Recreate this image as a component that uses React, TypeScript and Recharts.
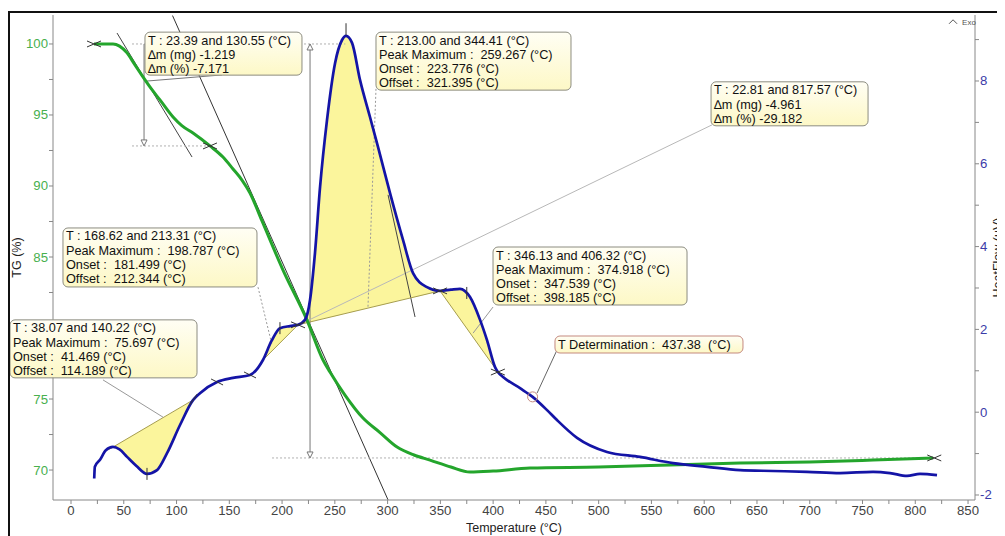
import {
  ComposedChart,
  Line,
  Area,
  XAxis,
  YAxis,
  ReferenceLine,
  ReferenceDot,
} from 'recharts'

const FONT = '"Liberation Sans", Arial, sans-serif'

// TG curve, left axis (%)
const TG_TEMP = [21.8, 30, 39.8, 46, 53.1, 60, 68.2, 76, 84.3, 96.7, 105, 115.6, 131.7, 144, 153.5, 162, 169.6, 181, 200.9, 223.6, 238.8, 245.4, 259.6, 276.7, 292.8, 309, 325, 340.2, 360, 378.1, 400, 435, 500, 567.6, 634, 700, 760, 817]
const TG_PCT = [100, 100, 100, 99.85, 99.37, 98.6, 97.68, 96.85, 96.06, 94.86, 94.25, 93.73, 92.82, 92.04, 91.2, 90.42, 89.51, 87.54, 84.08, 80.56, 77.75, 76.9, 75.28, 73.66, 72.64, 71.62, 71.06, 70.7, 70.21, 69.86, 69.93, 70.14, 70.21, 70.35, 70.49, 70.56, 70.7, 70.85]

// heat flow curve, right axis (uV)
const HF_TEMP = [22.0, 22.6, 27.5, 33, 39.8, 46, 53.1, 62, 72, 81.5, 91, 103.3, 115.6, 122.2, 138.4, 153.5, 169.6, 181.9, 190, 198, 207.5, 215.1, 221.7, 226.5, 231.2, 236, 242.6, 250.2, 256.8, 260.6, 266.3, 273.9, 283.3, 290.9, 302.3, 314.6, 324.1, 337.3, 349.7, 360, 368.6, 378.1, 387.6, 394.2, 401.8, 404.5, 409.4, 425.5, 437.4, 451.1, 460.5, 479.5, 507.9, 539.2, 570.5, 602.7, 634, 665.2, 697.4, 728.7, 760, 776.1, 792.2, 804.5, 820.6]
const HF_UV = [-1.6, -1.32, -1.15, -0.92, -0.84, -0.9, -1.08, -1.3, -1.49, -1.4, -0.99, -0.31, 0.29, 0.46, 0.73, 0.83, 0.9, 1.26, 1.72, 2.03, 2.08, 2.11, 2.23, 2.71, 3.85, 5.44, 7.06, 8.43, 8.99, 9.09, 8.92, 8.02, 7.13, 6.41, 5.29, 4.16, 3.36, 3.02, 2.93, 2.96, 2.98, 2.78, 2.23, 1.74, 1.09, 0.97, 0.85, 0.58, 0.37, 0.05, -0.19, -0.62, -0.96, -1.08, -1.23, -1.32, -1.4, -1.42, -1.44, -1.47, -1.44, -1.47, -1.54, -1.49, -1.52]

// integrated peaks: curve temperatures and the straight baseline read under them
const PEAK1_TEMP = [39.8, 46, 53.1, 62, 72, 81.5, 91, 103.3, 115.6]
const PEAK1_BASE = [-0.84, -0.75, -0.64, -0.51, -0.36, -0.22, -0.08, 0.11, 0.29]
const PEAK2_TEMP = [181.9, 190, 198, 207.5, 215.1]
const PEAK2_BASE = [1.26, 1.47, 1.67, 1.92, 2.11]
const PEAK3_TEMP = [215.1, 221.7, 226.5, 231.2, 236, 242.6, 250.2, 256.8, 260.6, 266.3, 273.9, 283.3, 290.9, 302.3, 314.6, 324.1, 337.3, 349.7]
const PEAK3_BASE = [2.11, 2.15, 2.18, 2.21, 2.24, 2.28, 2.32, 2.36, 2.39, 2.42, 2.47, 2.53, 2.57, 2.64, 2.72, 2.77, 2.85, 2.93]
const PEAK4_TEMP = [349.7, 360, 368.6, 378.1, 387.6, 394.2, 401.8, 404.5]
const PEAK4_BASE = [2.93, 2.56, 2.25, 1.91, 1.57, 1.34, 1.07, 0.97]

const X_TICKS = [0, 25, 50, 75, 100, 125, 150, 175, 200, 225, 250, 275, 300, 325, 350, 375, 400, 425, 450, 475, 500, 525, 550, 575, 600, 625, 650, 675, 700, 725, 750, 775, 800, 825, 850]
const TG_TICKS = [70, 72.5, 75, 77.5, 80, 82.5, 85, 87.5, 90, 92.5, 95, 97.5, 100]
const HF_TICKS = [-2, -1, 0, 1, 2, 3, 4, 5, 6, 7, 8, 9]

const tgData = TG_TEMP.map((t, i) => ({ t, tg: TG_PCT[i] }))
const hfData = HF_TEMP.map((t, i) => ({ t, hf: HF_UV[i] }))
const peakRows = (temps: number[], base: number[]) =>
  temps.map((t, i) => ({ t, range: [base[i], HF_UV[HF_TEMP.indexOf(t)]] }))
const PEAKS = [
  peakRows(PEAK1_TEMP, PEAK1_BASE),
  peakRows(PEAK2_TEMP, PEAK2_BASE),
  peakRows(PEAK3_TEMP, PEAK3_BASE),
  peakRows(PEAK4_TEMP, PEAK4_BASE),
]

// annotation boxes, anchored at their top-left corner (T, heat flow)
const NOTES = [
  { t: 70.1, hf: 9.18, w: 157, h: 43, lines: ['T : 23.39 and 130.55 (°C)', '∆m (mg) -1.219', '∆m (%) -7.171'] },
  { t: 289, hf: 9.18, w: 195, h: 58, lines: ['T : 213.00 and 344.41 (°C)', 'Peak Maximum :  259.267 (°C)', 'Onset :  223.776 (°C)', 'Offset :  321.395 (°C)'] },
  { t: 606.5, hf: 7.98, w: 157, h: 44, lines: ['T : 22.81 and 817.57 (°C)', '∆m (mg) -4.961', '∆m (%) -29.182'] },
  { t: -7.6, hf: 4.45, w: 194, h: 59, lines: ['T : 168.62 and 213.31 (°C)', 'Peak Maximum :  198.787 (°C)', 'Onset :  181.499 (°C)', 'Offset :  212.344 (°C)'] },
  { t: -57.8, hf: 2.23, w: 187, h: 58, lines: ['T : 38.07 and 140.22 (°C)', 'Peak Maximum :  75.697 (°C)', 'Onset :  41.469 (°C)', 'Offset :  114.189 (°C)'] },
  { t: 399.9, hf: 3.99, w: 194, h: 58, lines: ['T : 346.13 and 406.32 (°C)', 'Peak Maximum :  374.918 (°C)', 'Onset :  347.539 (°C)', 'Offset :  398.185 (°C)'] },
  { t: 458.6, hf: 1.84, w: 188, h: 17, lines: ['T Determination :  437.38  (°C)'], border: '#c4897f' },
]

// construction lines on the TG axis
const TG_LINES = [
  { a: [96.2, 102.0], b: [300.4, 67.9], stroke: '#333' },
  { a: [43.6, 100.77], b: [114.7, 92.04], stroke: '#444' },
  { a: [72.0, 97.39], b: [143.1, 97.82], stroke: '#777' },
  { a: [57.8, 100], b: [260, 100], stroke: '#b0b0b0', dash: '2 2' },
  { a: [57.8, 92.82], b: [131.7, 92.82], stroke: '#b0b0b0', dash: '2 2' },
  { a: [190.5, 70.85], b: [817, 70.85], stroke: '#b0b0b0', dash: '2 2' },
  { a: [69.2, 100], b: [69.2, 92.9], stroke: '#777' },
  { a: [226.5, 100], b: [226.5, 70.9], stroke: '#777' },
]

// leaders, tangents and peak baselines on the heat flow axis
const HF_LINES = [
  { a: [221.7, 2.18], b: [607.4, 6.94], stroke: '#b8b8b8' },
  { a: [289, 7.81], b: [281.4, 2.54], stroke: '#999', dash: '2 2' },
  { a: [300.4, 5.25], b: [326, 2.3], stroke: '#444' },
  { a: [177.2, 3.02], b: [190.5, 1.62], stroke: '#999', dash: '2 2' },
  { a: [30.3, 0.78], b: [87.2, -0.12], stroke: '#999' },
  { a: [399.9, 2.54], b: [381, 1.91], stroke: '#999' },
  { a: [460.5, 1.5], b: [441.6, 0.46], stroke: '#666' },
  { a: [36, -0.9], b: [118, 0.33], stroke: '#a69d4f' },
  { a: [181.9, 1.26], b: [215.1, 2.11], stroke: '#a69d4f' },
  { a: [215.1, 2.11], b: [349.7, 2.93], stroke: '#a69d4f' },
  { a: [349.7, 2.93], b: [404.5, 0.97], stroke: '#a69d4f' },
]

const TG_MARKS = [
  { t: 21.8, v: 100, kind: 'x' },
  { t: 131.7, v: 92.82, kind: 'x' },
  { t: 818, v: 70.85, kind: 'x' },
  { t: 69.2, v: 92.82, kind: 'down' },
  { t: 226.5, v: 100, kind: 'up' },
  { t: 226.5, v: 70.85, kind: 'down' },
]

const HF_MARKS = [
  { t: 72, v: -1.49, kind: 'v' },
  { t: 115.6, v: 0.29, kind: 'b' },
  { t: 138.4, v: 0.73, kind: 's' },
  { t: 169.6, v: 0.9, kind: 's' },
  { t: 198, v: 2.03, kind: 'v' },
  { t: 215.1, v: 2.11, kind: 'x' },
  { t: 260.6, v: 9.25, kind: 'v' },
  { t: 349.7, v: 2.93, kind: 'x' },
  { t: 375, v: 2.88, kind: 'v' },
  { t: 404.5, v: 0.97, kind: 'x' },
  { t: 437.4, v: 0.37, kind: 'o' },
]

function Mark({ cx, cy, kind }: { cx: number; cy: number; kind: string }) {
  const s = '#333'
  if (kind === 'x')
    return (
      <g stroke={s} strokeWidth={1}>
        <line x1={cx - 7} y1={cy - 3} x2={cx + 7} y2={cy + 3} />
        <line x1={cx - 7} y1={cy + 3} x2={cx + 7} y2={cy - 3} />
      </g>
    )
  if (kind === 'v') return <line x1={cx} y1={cy - 6} x2={cx} y2={cy + 6} stroke={s} />
  if (kind === 's') return <line x1={cx - 6} y1={cy - 3} x2={cx + 6} y2={cy + 3} stroke={s} />
  if (kind === 'b') return <line x1={cx - 4} y1={cy + 6} x2={cx + 4} y2={cy - 6} stroke={s} />
  if (kind === 'o') return <circle cx={cx} cy={cy} r={5} fill="none" stroke="#c4897f" />
  const d = kind === 'down' ? -1 : 1
  return (
    <path
      d={`M${cx - 3},${cy + d * 6} L${cx + 3},${cy + d * 6} L${cx},${cy} Z`}
      fill="#fff"
      stroke="#777"
    />
  )
}

function NoteBox({ cx, cy, w, h, lines, border }: any) {
  return (
    <g>
      <rect x={cx} y={cy} width={w} height={h} rx={5} fill="url(#noteFill)" stroke={border ?? '#8c8c80'} />
      {lines.map((s: string, i: number) => (
        <text
          key={i}
          x={cx + 3}
          y={cy + 12.5 + i * 14.2}
          fontSize={12.7}
          fill="#111"
          fontFamily={FONT}
          style={{ whiteSpace: 'pre' }}
        >
          {s}
        </text>
      ))}
    </g>
  )
}

const XTick = (p: any) => {
  const v = p.payload.value
  if (v % 50 !== 0) return <g />
  return (
    <text x={p.x} y={p.y} dy={10} textAnchor="middle" fontSize={13.2} fill="#444" fontFamily={FONT}>
      {v}
    </text>
  )
}

const TgTick = (p: any) => {
  const v = p.payload.value
  if (v % 5 !== 0) return <g />
  return (
    <text x={p.x} y={p.y} dy={4.5} textAnchor="end" fontSize={13.2} fill="#48b04e" fontFamily={FONT}>
      {v}
    </text>
  )
}

const HfTick = (p: any) => {
  const v = p.payload.value
  if (v % 2 !== 0) return <g />
  return (
    <text x={p.x} y={p.y} dy={4.5} textAnchor="start" fontSize={13.2} fill="#3b3ba8" fontFamily={FONT}>
      {v}
    </text>
  )
}

const sideTitle = (text: string, dx: number) => (props: any) => {
  const vb = props.viewBox
  const x = vb.x + dx
  const y = vb.y + vb.height / 2
  return (
    <text
      x={x}
      y={y}
      transform={`rotate(-90 ${x} ${y})`}
      textAnchor="middle"
      dominantBaseline="central"
      fontSize={12.5}
      fill="#222"
      fontFamily={FONT}
    >
      {text}
    </text>
  )
}

export default function App() {
  return (
    <div style={{ position: 'relative', width: 997, height: 528, fontFamily: FONT }}>
      <ComposedChart width={997} height={528} margin={{ top: 7, right: 0, bottom: 0, left: 0 }}>
        <defs>
          <linearGradient id="noteFill" x1="0" y1="0" x2="0" y2="1">
            <stop offset="0" stopColor="#fffef4" />
            <stop offset="1" stopColor="#fdf8c6" />
          </linearGradient>
        </defs>
        <XAxis
          dataKey="t"
          type="number"
          domain={[-17.06, 856.6]}
          allowDataOverflow
          ticks={X_TICKS}
          interval={0}
          height={36}
          tickSize={4}
          tickMargin={1}
          stroke="#888"
          tick={XTick}
          label={{ value: 'Temperature (°C)', position: 'insideBottom', offset: 4, fontSize: 12.5, fill: '#222' }}
        />
        <YAxis
          yAxisId="tg"
          orientation="left"
          type="number"
          domain={[67.89, 102.04]}
          allowDataOverflow
          ticks={TG_TICKS}
          interval={0}
          width={45}
          tickSize={4}
          tickMargin={1}
          stroke="#888"
          tick={TgTick}
          label={{ content: sideTitle('TG (%)', 9) }}
        />
        <YAxis
          yAxisId="hf"
          orientation="right"
          type="number"
          domain={[-2.121, 9.594]}
          allowDataOverflow
          ticks={HF_TICKS}
          interval={0}
          width={30}
          tickSize={4}
          tickMargin={1}
          stroke="#888"
          tick={HfTick}
          label={{ content: sideTitle('HeatFlow (uV)', 23) }}
        />

        {PEAKS.map((rows, i) => (
          <Area
            key={i}
            yAxisId="hf"
            data={rows}
            dataKey="range"
            type="monotone"
            stroke="none"
            fill="#fbf59c"
            fillOpacity={1}
            isAnimationActive={false}
          />
        ))}

        {TG_LINES.map((l, i) => (
          <ReferenceLine
            key={'tg' + i}
            yAxisId="tg"
            ifOverflow="visible"
            segment={[{ x: l.a[0], y: l.a[1] }, { x: l.b[0], y: l.b[1] }]}
            stroke={l.stroke}
            strokeDasharray={l.dash}
            strokeWidth={1}
          />
        ))}
        {HF_LINES.map((l, i) => (
          <ReferenceLine
            key={'hf' + i}
            yAxisId="hf"
            ifOverflow="visible"
            segment={[{ x: l.a[0], y: l.a[1] }, { x: l.b[0], y: l.b[1] }]}
            stroke={l.stroke}
            strokeDasharray={l.dash}
            strokeWidth={1}
          />
        ))}

        <Line
          yAxisId="tg"
          data={tgData}
          dataKey="tg"
          type="monotone"
          stroke="#24a52c"
          strokeWidth={3}
          dot={false}
          isAnimationActive={false}
        />
        <Line
          yAxisId="hf"
          data={hfData}
          dataKey="hf"
          type="monotone"
          stroke="#1414a6"
          strokeWidth={2.7}
          dot={false}
          isAnimationActive={false}
        />

        {TG_MARKS.map((m, i) => (
          <ReferenceDot
            key={'tm' + i}
            yAxisId="tg"
            x={m.t}
            y={m.v}
            ifOverflow="visible"
            shape={(p: any) => <Mark cx={p.cx} cy={p.cy} kind={m.kind} />}
          />
        ))}
        {HF_MARKS.map((m, i) => (
          <ReferenceDot
            key={'hm' + i}
            yAxisId="hf"
            x={m.t}
            y={m.v}
            ifOverflow="visible"
            shape={(p: any) => <Mark cx={p.cx} cy={p.cy} kind={m.kind} />}
          />
        ))}

        {NOTES.map((n, i) => (
          <ReferenceDot
            key={'n' + i}
            yAxisId="hf"
            x={n.t}
            y={n.hf}
            ifOverflow="visible"
            zIndex={2000}
            shape={(p: any) => <NoteBox cx={p.cx} cy={p.cy} {...n} />}
          />
        ))}
        <ReferenceDot
          yAxisId="hf"
          x={835.8}
          y={9.43}
          ifOverflow="visible"
          shape={(p: any) => (
            <g>
              <polyline
                points={`${p.cx - 4},${p.cy + 2} ${p.cx},${p.cy - 2} ${p.cx + 4},${p.cy + 2}`}
                fill="none"
                stroke="#555"
              />
              <text x={p.cx + 9} y={p.cy + 3} fontSize={8} fill="#555" fontFamily={FONT}>
                Exo
              </text>
            </g>
          )}
        />
      </ComposedChart>
      <div
        style={{
          position: 'absolute',
          left: 0,
          top: 3,
          width: 997,
          height: 525,
          borderTop: '2px solid #111',
          borderLeft: '2px solid #111',
          boxSizing: 'border-box',
          pointerEvents: 'none',
        }}
      />
    </div>
  )
}
